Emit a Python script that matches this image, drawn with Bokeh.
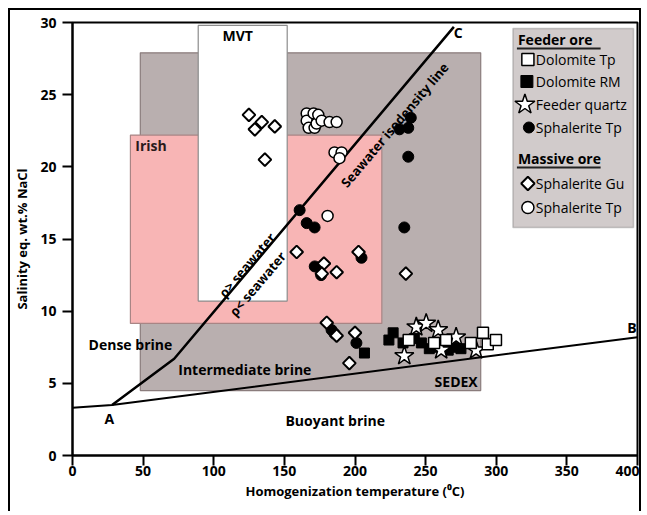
import math
from bokeh.plotting import figure
from bokeh.models import (Range1d, FixedTicker, Label, BoxAnnotation, ColumnDataSource)
from bokeh.embed import file_html
from bokeh.resources import INLINE

FONT = "Open Sans"

# ---------------- data ----------------
x_ticks = [0, 50, 100, 150, 200, 250, 300, 350, 400]
y_ticks = [0, 5, 10, 15, 20, 25, 30]

region_names = ["SEDEX", "Irish", "MVT"]
region_tmin = [48, 41, 89]
region_tmax = [289, 219, 152]
region_smin = [4.5, 9.15, 10.7]
region_smax = [27.9, 22.2, 29.8]

ab_temp = [0, 28, 400]
ab_sal = [3.3, 3.5, 8.2]
ac_temp = [28, 72, 270]
ac_sal = [3.5, 6.7, 29.7]

dolomite_tp_temp = [238, 256, 264.5, 282, 290.6, 294, 299.8]
dolomite_tp_sal = [8.0, 7.8, 8.0, 7.8, 8.5, 7.7, 8.0]

dolomite_rm_temp = [206.7, 224, 227, 234, 242, 247, 252.6, 257.5, 266, 270, 275]
dolomite_rm_sal = [7.1, 8.0, 8.5, 7.8, 8.1, 7.8, 7.4, 7.5, 7.3, 7.5, 7.4]

quartz_temp = [234.9, 243.4, 250.4, 258.9, 261.0, 271.6, 285.7]
quartz_sal = [6.9, 8.9, 9.15, 8.7, 7.3, 8.2, 7.3]

feeder_sph_temp = [160.8, 165.8, 171.4, 171.5, 176, 204.6, 183.4, 185.5, 201,
                   231.5, 237.7, 239.5, 237.7, 234.9]
feeder_sph_sal = [17.0, 16.1, 15.8, 13.1, 12.5, 13.7, 8.7, 8.45, 7.8,
                  22.6, 22.7, 23.4, 20.7, 15.8]

gu_temp = [124.9, 134.0, 129.1, 143.2, 136.2, 158.7, 178, 176.5, 187, 202.5,
           236, 187, 180, 200, 196]
gu_sal = [23.6, 23.1, 22.6, 22.8, 20.5, 14.1, 13.3, 12.6, 12.7, 14.1,
          12.6, 8.3, 9.2, 8.5, 6.4]

massive_sph_temp = [165.8, 165.8, 167.2, 170.7, 171.4, 172.8, 174, 176.4, 182,
                    187, 185.5, 190.5, 189, 180.6]
massive_sph_sal = [23.7, 23.2, 22.7, 23.7, 22.7, 23.0, 23.6, 23.2, 23.1,
                   23.1, 21.0, 21.0, 20.6, 16.6]

# ---------------- layout constants (page pixels) ----------------
FRAME_X0, FRAME_Y0 = 70, 22
FRAME_W, FRAME_H = 567, 433


def px2x(px):
    return (px - FRAME_X0) / FRAME_W * 400


def py2y(py):
    return (FRAME_Y0 + FRAME_H - py) / FRAME_H * 30


p = figure(width=633, height=503, x_range=Range1d(0, 400), y_range=Range1d(0, 30),
           output_backend="svg", toolbar_location=None,
           min_border_left=60, min_border_right=6, min_border_top=12,
           min_border_bottom=58,
           styles={"margin-left": "8px", "margin-top": "8px",
                   "border-left": "2px solid black", "border-top": "2px solid black",
                   "border-right": "2px solid black"})
p.xgrid.grid_line_color = None
p.ygrid.grid_line_color = None
p.outline_line_color = "black"
p.outline_line_width = 2
p.outline_line_alpha = 1

p.xaxis.ticker = FixedTicker(ticks=x_ticks)
p.yaxis.ticker = FixedTicker(ticks=y_ticks)
p.xaxis.axis_label = "Homogenization temperature (\u2070C)"
p.yaxis.axis_label = "Salinity eq. wt.% NaCl"
for ax in (p.xaxis[0], p.yaxis[0]):
    ax.axis_line_width = 2
    ax.axis_line_color = "black"
    ax.major_tick_line_width = 2
    ax.major_tick_line_color = "black"
    ax.major_tick_out = 10
    ax.major_tick_in = 0
    ax.minor_tick_line_color = None
    ax.major_label_text_font = FONT
    ax.major_label_text_font_style = "bold"
    ax.major_label_text_font_size = "14px"
    ax.major_label_text_color = "black"
    ax.axis_label_text_font = FONT
    ax.axis_label_text_font_style = "bold"
    ax.axis_label_text_font_size = "13px"
    ax.axis_label_text_color = "black"
p.xaxis.major_label_standoff = 0
p.xaxis.axis_label_standoff = 3
p.yaxis.major_label_standoff = 6
p.yaxis.axis_label_standoff = 6

# ---------------- regions ----------------
region_fill = {"SEDEX": "#b9afaf", "Irish": "#f8b5b5", "MVT": "#ffffff"}
region_line = {"SEDEX": "#8a7c7c", "Irish": "#a88585", "MVT": "#8c8c8c"}
rsrc = ColumnDataSource(dict(left=region_tmin, right=region_tmax,
                             bottom=region_smin, top=region_smax,
                             fill=[region_fill[n] for n in region_names],
                             line=[region_line[n] for n in region_names]))
p.quad(left="left", right="right", bottom="bottom", top="top", source=rsrc,
       fill_color="fill", line_color="line", line_width=1.2)

# ---------------- lines ----------------
p.line(ab_temp, ab_sal, line_color="black", line_width=2)
p.line(ac_temp, ac_sal, line_color="black", line_width=2.5)


# ---------------- text labels ----------------
def lab(x, y, text, size="14px", align="center", angle=0.0, color="black", style="bold"):
    p.add_layout(Label(x=x, y=y, text=text, text_font=FONT, text_font_style=style,
                       text_font_size=size, text_align=align, text_baseline="middle",
                       angle=angle, text_color=color))


slope_px = ((ac_sal[2] - ac_sal[1]) / (ac_temp[2] - ac_temp[1])) * (FRAME_H / 30) / (FRAME_W / 400)
line_angle = math.atan(slope_px)

lab(117, 29.1, "MVT")
lab(44.5, 21.5, "Irish", align="left", color="#2a1a1a")
lab(41, 7.7, "Dense brine")
lab(122, 5.95, "Intermediate brine")
lab(271.6, 5.1, "SEDEX")
lab(186, 2.4, "Buoyant brine")
lab(26, 2.55, "A")
lab(396, 8.9, "B")
lab(273, 29.3, "C")
lab(228, 22.9, "Seawater isodensity line", size="13px", angle=line_angle)
lab(123.5, 13.2, "\u03c1> seawater", size="13px", angle=line_angle)
lab(131, 11.9, "\u03c1< seawater", size="13px", angle=line_angle)

# ---------------- data points ----------------
STYLE = {
    "Dolomite RM": dict(marker="square", size=10, fill_color="black", line_color="black", line_width=1),
    "Feeder quartz": dict(marker="star", size=20, fill_color="white", line_color="black", line_width=1.5),
    "Dolomite Tp": dict(marker="square", size=11, fill_color="white", line_color="black", line_width=1.5),
    "Sphalerite Tp (feeder)": dict(marker="circle", size=11, fill_color="black", line_color="black", line_width=1),
    "Sphalerite Tp (massive)": dict(marker="circle", size=11, fill_color="white", line_color="black", line_width=1.5),
    "Sphalerite Gu": dict(marker="square", angle=math.pi / 4, size=9, fill_color="white", line_color="black", line_width=2),
}
p.scatter(dolomite_rm_temp, dolomite_rm_sal, **STYLE["Dolomite RM"])
p.scatter(quartz_temp, quartz_sal, **STYLE["Feeder quartz"])
p.scatter(dolomite_tp_temp, dolomite_tp_sal, **STYLE["Dolomite Tp"])
p.scatter(feeder_sph_temp, feeder_sph_sal, **STYLE["Sphalerite Tp (feeder)"])
p.scatter(massive_sph_temp, massive_sph_sal, **STYLE["Sphalerite Tp (massive)"])
p.scatter(gu_temp, gu_sal, **STYLE["Sphalerite Gu"])

# ---------------- legend (key box) ----------------
p.add_layout(BoxAnnotation(left=px2x(512), right=px2x(633), top=py2y(28), bottom=py2y(227),
                           fill_color="#d1cbcb", fill_alpha=1, line_color="#5a5a5a",
                           line_width=1.5, level="underlay"))
for title, ty in (("Feeder ore", 39), ("Massive ore", 158)):
    lab(px2x(517), py2y(ty), title, align="left")
    p.add_layout(BoxAnnotation(left=px2x(516), right=px2x(600), top=py2y(ty + 8),
                               bottom=py2y(ty + 10), fill_color="#222222", fill_alpha=1,
                               line_alpha=0))

LABEL_X = 535
keys = [("Dolomite Tp", "Dolomite Tp", 527, 59, 1.1),
        ("Dolomite RM", "Dolomite RM", 526, 81, 1.2),
        ("Feeder quartz", "Feeder quartz", 524, 104, 1.05),
        ("Sphalerite Tp (feeder)", "Sphalerite Tp", 528, 127, 1.0),
        ("Sphalerite Gu", "Sphalerite Gu", 527, 183, 1.05),
        ("Sphalerite Tp (massive)", "Sphalerite Tp", 527, 207, 1.1)]
for style_key, text, cx, cy, scale in keys:
    st = dict(STYLE[style_key])
    st["size"] = st["size"] * scale
    p.scatter([px2x(cx)], [py2y(cy)], **st)
    lab(px2x(LABEL_X), py2y(cy), text, align="left", style="normal")

open("out.html", "w").write(file_html(p, INLINE))
